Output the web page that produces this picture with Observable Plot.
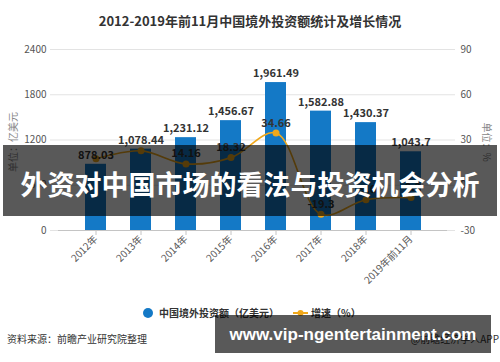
<!DOCTYPE html>
<html>
<head>
<meta charset="utf-8">
<script src="https://cdn.jsdelivr.net/npm/d3@7"></script>
<script src="https://cdn.jsdelivr.net/npm/@observablehq/plot@0.6"></script>
<style>
  body { margin: 0; background: #fff; }
  #wrap { position: relative; width: 500px; height: 362px; overflow: hidden; font-family: "Noto Sans CJK SC", "Noto Sans", sans-serif; color: #333; }
  .abs { position: absolute; white-space: nowrap; }
  #title { top: 11px; left: 0; width: 500px; text-align: center; font-size: 13px; font-weight: bold; color: #333; }
  #chart { position: absolute; top: 35px; left: 0; }
  #ylabL { left: 12px; top: 142px; font-size: 10px; color: #888; transform: translate(-50%, -50%) rotate(-90deg); }
  #ylabR { left: 487px; top: 142px; font-size: 10px; color: #888; transform: translate(-50%, -50%) rotate(90deg); }
  #legend { top: 305px; left: 0; width: 500px; font-size: 10px; font-weight: bold; color: #333; }
  #source { left: 7px; top: 331px; font-size: 10px; color: #333; }
  #app { right: 1px; top: 331px; font-size: 10px; color: #333; }
  #banner { left: 3px; top: 145px; width: 494px; height: 71px; background: rgba(0,0,0,0.65); color: #fff; font-size: 27px; font-weight: bold; text-align: center; line-height: 78px; font-family: "Noto Sans CJK SC", sans-serif; }
  #wm { left: 215px; top: 315px; width: 276px; height: 38px; background: rgba(0,0,0,0.65); color: #fff; font-size: 17px; font-weight: bold; text-align: center; line-height: 40px; font-family: "Liberation Sans", Arial, sans-serif; }
</style>
</head>
<body>
<div id="wrap">
  <div id="title" class="abs">2012-2019年前11月中国境外投资额统计及增长情况</div>
  <div id="chart"></div>
  <div id="ylabL" class="abs">单位：亿美元</div>
  <div id="ylabR" class="abs">单位：%</div>
  <div id="legend" class="abs"></div>
  <div id="source" class="abs">资料来源：前瞻产业研究院整理</div>
  <div id="app" class="abs">@前瞻经济学人APP</div>
  <div id="banner" class="abs">外资对中国市场的看法与投资机会分析</div>
  <div id="wm" class="abs">www.vip-ngentertainment.com</div>
</div>
<script>
const years = ["2012年", "2013年", "2014年", "2015年", "2016年", "2017年", "2018年", "2019年前11月"];
const amounts = [878.03, 1078.44, 1231.12, 1456.67, 1961.49, 1582.88, 1430.37, 1043.7];
const growth = [17.6, 22.8, 14.16, 18.32, 34.66, -19.3, -9.6, -8.2];
const leftTicks = [0, 600, 1200, 1800, 2400];
const rightTicks = [-30, 0, 30, 60, 90];
const seriesNames = ["中国境外投资额（亿美元）", "增速（%）"];

const barColor = "#1479c6";
const lineColor = "#f0a81c";

// map right axis (-30..90) onto left axis (0..2400)
const k = leftTicks[leftTicks.length - 1] / (rightTicks[rightTicks.length - 1] - rightTicks[0]);
const toLeft = g => (g - rightTicks[0]) * k;
const toRight = v => String(Math.round(v / k + rightTicks[0]));

const data = years.map((y, i) => ({year: y, amount: amounts[i], growth: growth[i], gy: toLeft(growth[i])}));
// growth labels that would collide with a bar label are hidden (as in the reference)
const growthLabels = data.filter(d => Math.abs(d.gy - d.amount) > 200);

const chart = Plot.plot({
  width: 500,
  height: 264,
  marginTop: 14,
  marginBottom: 69,
  marginLeft: 50,
  marginRight: 45,
  style: {fontFamily: "'Noto Sans CJK SC', 'Noto Sans', sans-serif", fontSize: "10px", color: "#555", background: "transparent"},
  x: {type: "band", domain: years, padding: 0.54, insetLeft: 8, insetRight: 8, label: null},
  y: {domain: [leftTicks[0], leftTicks[leftTicks.length - 1]], label: null},
  marks: [
    Plot.gridY(leftTicks, {stroke: "#e3e3e3", strokeOpacity: 1}),
    Plot.axisY(leftTicks, {anchor: "left", tickSize: 0, tickPadding: 4, label: null, fill: "#555", tickFormat: d => String(d)}),
    Plot.axisY(leftTicks, {anchor: "right", tickSize: 0, tickPadding: 5, label: null, fill: "#555", tickFormat: toRight}),
    Plot.barY(data, {x: "year", y: "amount", fill: barColor}),
    Plot.ruleY([0], {stroke: "#c4c4c4", insetLeft: 8, insetRight: 8}),
    Plot.axisX({tickRotate: -45, tickSize: 5, stroke: "#c4c4c4", label: null, fill: "#555", tickPadding: 2}),
    Plot.line(data, {x: "year", y: "gy", stroke: lineColor, strokeWidth: 1.6, curve: "catmull-rom"}),
    Plot.dot(data, {x: "year", y: "gy", fill: lineColor, r: 3.5}),
    Plot.text(data, {x: "year", y: "amount", text: d => d3.format(",")(d.amount), dy: -9, fill: "#333", fontWeight: "bold", fontSize: 11}),
    Plot.text(growthLabels, {x: "year", y: "gy", text: d => String(d.growth), dy: -10, fill: "#333", fontWeight: "bold", fontSize: 11})
  ]
});
document.getElementById("chart").appendChild(chart);

// legend
const legend = document.getElementById("legend");
legend.innerHTML =
  `<svg width="500" height="16" style="position:absolute;left:0;top:0">
     <circle cx="148" cy="8" r="5" fill="${barColor}"></circle>
     <line x1="293" x2="308" y1="8" y2="8" stroke="${lineColor}" stroke-width="2"></line>
     <circle cx="300.5" cy="8" r="3" fill="${lineColor}"></circle>
   </svg>
   <span style="position:absolute;left:159px;top:0;line-height:16px">${seriesNames[0]}</span>
   <span style="position:absolute;left:311px;top:0;line-height:16px">${seriesNames[1]}</span>`;
</script>
</body>
</html>
